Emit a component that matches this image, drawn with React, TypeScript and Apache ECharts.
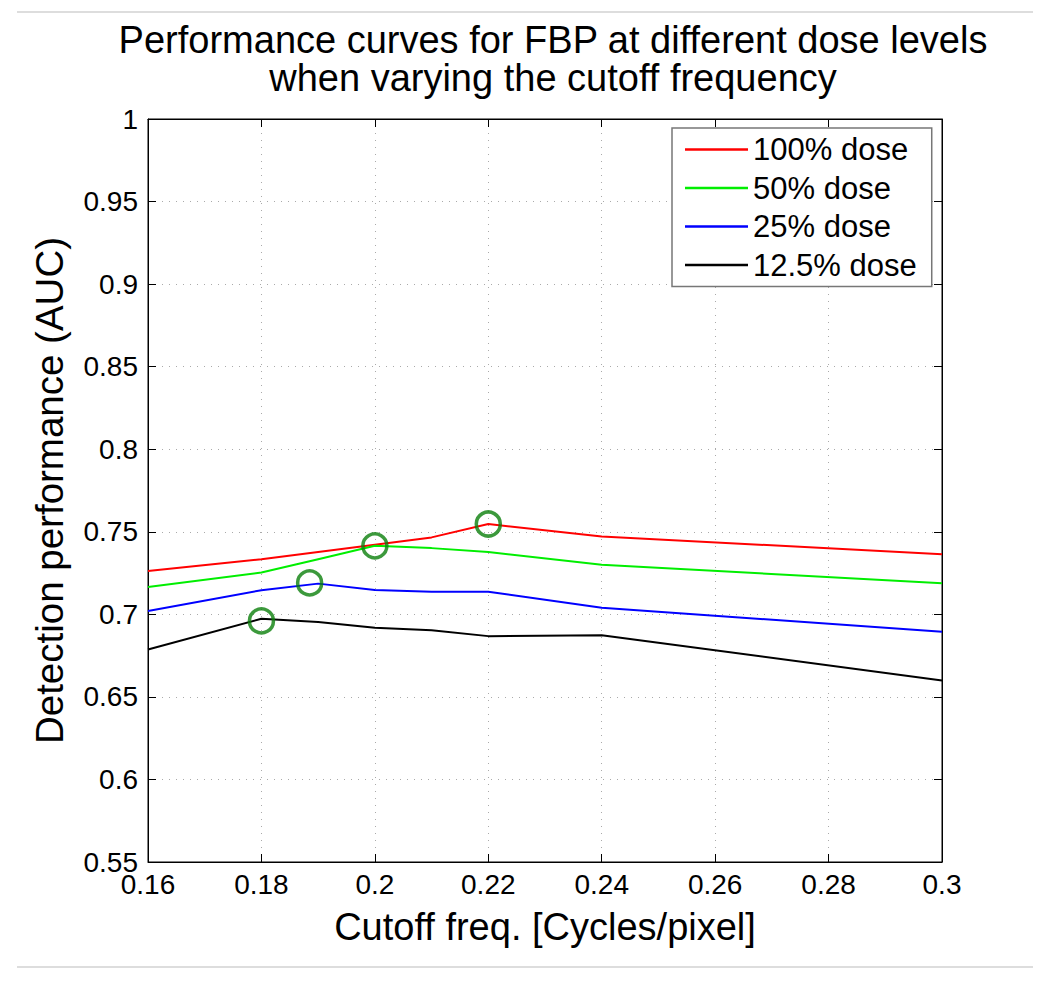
import React, { useEffect, useRef } from "react";
import * as echarts from "echarts";

const xValues = [0.16, 0.18, 0.19, 0.2, 0.21, 0.22, 0.24, 0.3];
const dose100 = [0.7263, 0.7334, 0.7377, 0.7421, 0.7466, 0.7547, 0.7472, 0.7364];
const dose50 = [0.7166, 0.7253, 0.7334, 0.7415, 0.7401, 0.7378, 0.7300, 0.7188];
const dose25 = [0.7020, 0.7146, 0.7186, 0.7148, 0.7137, 0.7137, 0.7040, 0.6894];
const dose125 = [0.6787, 0.6973, 0.6953, 0.6919, 0.6903, 0.6868, 0.6874, 0.6599];
const optimalX = [0.22, 0.2, 0.1885, 0.18];
const optimalY = [0.7547, 0.7415, 0.719, 0.696];
const seriesNames = ["100% dose", "50% dose", "25% dose", "12.5% dose"];
const seriesColors = ["#ff0000", "#00ee00", "#0000ff", "#000000"];

const FONT = "Liberation Sans, Arial, Helvetica, sans-serif";

export default function App() {
  const ref = useRef<HTMLDivElement>(null);
  useEffect(() => {
    if (!ref.current) return;
    const chart = echarts.init(ref.current, undefined, { renderer: "svg" });
    const allData = [dose100, dose50, dose25, dose125];
    const fmt = (v: number) => String(+v.toFixed(2));
    const lineSeries = allData.map((d, i) => ({
      name: seriesNames[i],
      type: "line",
      data: xValues.map((x, j) => [x, d[j]]),
      symbol: "none",
      showSymbol: false,
      lineStyle: { color: seriesColors[i], width: 2 },
      itemStyle: { color: seriesColors[i] },
      z: 3,
    }));
    chart.setOption({
      animation: false,
      backgroundColor: "#ffffff",
      textStyle: { fontFamily: FONT },
      title: {
        text: "Performance curves for FBP at different dose levels\nwhen varying the cutoff frequency",
        left: 548,
        top: 16,
        textAlign: "center",
        textStyle: { fontFamily: FONT, fontSize: 38, fontWeight: "normal", color: "#000", lineHeight: 38 },
      },
      grid: { left: 148, right: 108, top: 119, bottom: 120, show: true, borderColor: "#000", borderWidth: 1 },
      legend: {
        data: seriesNames.map((n) => ({ name: n, icon: "rect" })),
        orient: "vertical",
        left: 672,
        top: 128,
        padding: [6, 15, 6, 13],
        itemWidth: 63,
        itemHeight: 2.5,
        itemGap: 7.5,
        backgroundColor: "#ffffff",
        borderColor: "#777",
        borderWidth: 1.5,
        borderRadius: 0,
        textStyle: { fontFamily: FONT, fontSize: 31, color: "#000", lineHeight: 30 },
      },
      xAxis: [
        {
          type: "value",
          min: 0.16,
          max: 0.3,
          interval: 0.02,
          position: "bottom",
          name: "Cutoff freq. [Cycles/pixel]",
          nameLocation: "middle",
          nameGap: 46,
          nameTextStyle: { fontFamily: FONT, fontSize: 38, color: "#000" },
          axisLine: { show: true, onZero: false, lineStyle: { color: "#000", width: 1 } },
          axisTick: { show: true, inside: true, length: 8, lineStyle: { color: "#000" } },
          axisLabel: { fontFamily: FONT, fontSize: 28, color: "#000", margin: 8, formatter: fmt },
          splitLine: { show: true, lineStyle: { color: "#aaa", type: [1, 6], width: 1 } },
        },
        {
          type: "value",
          min: 0.16,
          max: 0.3,
          interval: 0.02,
          position: "top",
          axisLine: { show: true, onZero: false, lineStyle: { color: "#000", width: 1 } },
          axisTick: { show: true, inside: true, length: 8, lineStyle: { color: "#000" } },
          axisLabel: { show: false },
          splitLine: { show: false },
        },
      ],
      yAxis: [
        {
          type: "value",
          min: 0.55,
          max: 1,
          interval: 0.05,
          position: "left",
          name: "Detection performance (AUC)",
          nameLocation: "middle",
          nameGap: 79,
          nameTextStyle: { fontFamily: FONT, fontSize: 38.5, color: "#000" },
          axisLine: { show: true, onZero: false, lineStyle: { color: "#000", width: 1 } },
          axisTick: { show: true, inside: true, length: 8, lineStyle: { color: "#000" } },
          axisLabel: { fontFamily: FONT, fontSize: 28, color: "#000", margin: 10, formatter: fmt },
          splitLine: { show: true, lineStyle: { color: "#aaa", type: [1, 6], width: 1 } },
        },
        {
          type: "value",
          min: 0.55,
          max: 1,
          interval: 0.05,
          position: "right",
          axisLine: { show: true, onZero: false, lineStyle: { color: "#000", width: 1 } },
          axisTick: { show: true, inside: true, length: 8, lineStyle: { color: "#000" } },
          axisLabel: { show: false },
          splitLine: { show: false },
        },
      ],
      series: [
        ...lineSeries,
        {
          name: "optimal",
          type: "scatter",
          data: optimalX.map((x, i) => [x, optimalY[i]]),
          symbol: "circle",
          symbolSize: 24,
          itemStyle: { color: "rgba(0,0,0,0)", borderColor: "#0b800b", borderWidth: 3.5 },
          z: 4,
        },
      ],
      graphic: [
        { type: "line", shape: { x1: 17, y1: 12, x2: 1033, y2: 12 }, style: { stroke: "#dddddd", lineWidth: 2 } },
        { type: "line", shape: { x1: 17, y1: 967, x2: 1033, y2: 967 }, style: { stroke: "#dddddd", lineWidth: 2 } },
      ],
    });
    return () => chart.dispose();
  }, []);
  return (
    <div
      ref={ref}
      style={{ position: "absolute", left: 0, top: 0, width: 1050, height: 982 }}
    />
  );
}
